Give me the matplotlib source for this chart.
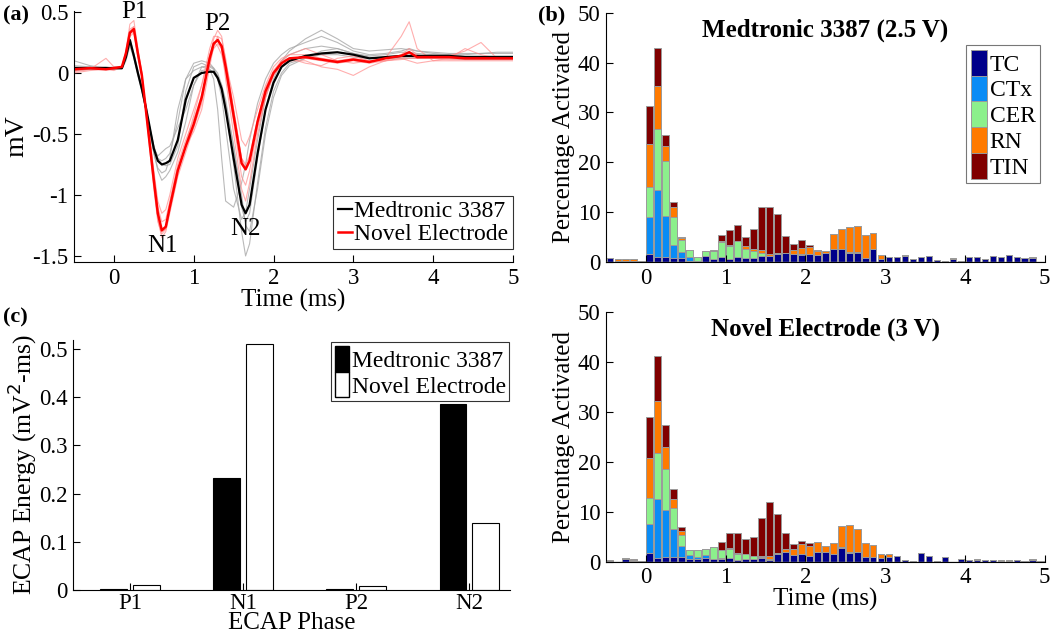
import numpy as np
import matplotlib
matplotlib.use("Agg")
import matplotlib.pyplot as plt
from matplotlib.patches import Patch

plt.rcParams['font.family'] = ['Liberation Serif', 'DejaVu Serif']
plt.rcParams['axes.unicode_minus'] = False
plt.rcParams['xtick.direction'] = 'in'
plt.rcParams['ytick.direction'] = 'in'

# ---- panel (a): ECAP waveforms ----
t_ms = [-0.5, -0.3, -0.1, 0.0, 0.1, 0.15, 0.2, 0.25, 0.3, 0.35, 0.4, 0.5, 0.55, 0.6, 0.65, 0.7,
        0.8, 0.9, 1.0, 1.1, 1.2, 1.25, 1.3, 1.35, 1.4, 1.5, 1.6, 1.65, 1.7, 1.8, 1.9, 2.0, 2.1,
        2.2, 2.4, 2.6, 2.8, 3.0, 3.2, 3.4, 3.6, 3.7, 3.8, 4.0, 4.2, 4.4, 4.6, 4.8, 5.0]

medtronic_mean = [0.04, 0.04, 0.04, 0.04, 0.04, 0.13, 0.27, 0.14, 0.0, -0.13, -0.28, -0.62, -0.72, -0.75,
                  -0.74, -0.72, -0.55, -0.22, -0.04, 0.0, 0.01, 0.01, -0.04, -0.13, -0.3, -0.7, -1.08,
                  -1.15, -1.08, -0.66, -0.3, -0.08, 0.05, 0.1, 0.14, 0.16, 0.17, 0.15, 0.12, 0.13, 0.14,
                  0.14, 0.14, 0.14, 0.14, 0.13, 0.13, 0.13, 0.13]
novel_mean = [0.03, 0.04, 0.03, 0.04, 0.05, 0.16, 0.33, 0.36, 0.16, -0.02, -0.3, -0.88, -1.15, -1.29,
              -1.26, -1.1, -0.8, -0.6, -0.42, -0.2, 0.12, 0.24, 0.27, 0.22, 0.05, -0.35, -0.74, -0.79,
              -0.72, -0.4, -0.15, 0.0, 0.08, 0.12, 0.13, 0.11, 0.09, 0.11, 0.09, 0.12, 0.14, 0.17, 0.13,
              0.13, 0.13, 0.12, 0.12, 0.12, 0.12]

medtronic_trials = [
    [0.1, 0.06, 0.04, 0.03, 0.03, 0.1, 0.22, 0.12, -0.02, -0.15, -0.3, -0.6, -0.7, -0.72, -0.7, -0.66,
     -0.4, -0.05, 0.08, 0.1, 0.08, 0.04, -0.05, -0.2, -0.45, -0.95, -1.2, -1.14, -0.95, -0.55, -0.2, 0.0,
     0.1, 0.15, 0.2, 0.22, 0.2, 0.16, 0.14, 0.15, 0.17, 0.17, 0.16, 0.15, 0.15, 0.15, 0.16, 0.17, 0.17],
    [0.05, 0.05, 0.04, 0.03, 0.04, 0.12, 0.25, 0.13, 0.0, -0.12, -0.3, -0.66, -0.78, -0.82, -0.8, -0.7,
     -0.3, -0.05, 0.02, 0.05, 0.03, -0.05, -0.3, -0.7, -1.05, -1.1, -0.9, -0.75, -0.55, -0.25, -0.05, 0.08,
     0.15, 0.2, 0.25, 0.3, 0.25, 0.18, 0.15, 0.16, 0.18, 0.2, 0.18, 0.16, 0.15, 0.14, 0.14, 0.14, 0.14],
    [0.03, 0.04, 0.04, 0.04, 0.05, 0.14, 0.28, 0.16, 0.02, -0.12, -0.28, -0.65, -0.8, -0.88, -0.85, -0.8,
     -0.65, -0.4, -0.1, 0.02, 0.03, 0.0, -0.05, -0.15, -0.3, -0.75, -1.3, -1.5, -1.4, -0.9, -0.45, -0.15,
     0.0, 0.08, 0.12, 0.15, 0.15, 0.13, 0.12, 0.12, 0.13, 0.13, 0.13, 0.13, 0.13, 0.12, 0.12, 0.12, 0.12],
    [0.02, 0.03, 0.04, 0.05, 0.05, 0.13, 0.26, 0.15, 0.01, -0.14, -0.29, -0.62, -0.68, -0.65, -0.62, -0.6,
     -0.45, -0.3, -0.1, 0.05, 0.06, 0.04, 0.0, -0.1, -0.25, -0.6, -1.0, -1.25, -1.3, -0.95, -0.5, -0.2,
     -0.02, 0.06, 0.12, 0.18, 0.2, 0.16, 0.13, 0.12, 0.12, 0.12, 0.12, 0.12, 0.12, 0.11, 0.11, 0.11, 0.11],
    [0.06, 0.05, 0.05, 0.04, 0.04, 0.12, 0.26, 0.14, 0.0, -0.13, -0.3, -0.6, -0.7, -0.75, -0.76, -0.75,
     -0.6, -0.15, 0.05, 0.08, 0.05, 0.03, -0.02, -0.1, -0.22, -0.6, -1.1, -1.22, -1.15, -0.7, -0.3, -0.05,
     0.1, 0.18, 0.28, 0.35, 0.28, 0.2, 0.18, 0.19, 0.2, 0.19, 0.18, 0.17, 0.16, 0.16, 0.16, 0.16, 0.16],
]
novel_trials = [
    [0.0, 0.02, 0.03, 0.03, 0.05, 0.18, 0.4, 0.43, 0.2, 0.0, -0.3, -0.9, -1.2, -1.35, -1.3, -1.15, -0.85,
     -0.65, -0.45, -0.25, 0.1, 0.28, 0.35, 0.3, 0.1, -0.3, -0.7, -0.78, -0.7, -0.4, -0.15, 0.0, 0.1, 0.15,
     0.2, 0.15, 0.1, 0.08, 0.1, 0.12, 0.3, 0.42, 0.2, 0.1, 0.1, 0.1, 0.1, 0.1, 0.1],
    [0.01, 0.03, 0.12, 0.05, 0.04, 0.14, 0.32, 0.34, 0.15, -0.02, -0.28, -0.8, -1.05, -1.15, -1.12, -1.0,
     -0.7, -0.5, -0.3, -0.1, 0.15, 0.25, 0.22, 0.15, 0.0, -0.4, -0.85, -0.92, -0.8, -0.45, -0.2, -0.02,
     0.06, 0.1, 0.1, 0.05, 0.03, -0.02, 0.05, 0.1, 0.12, 0.1, 0.08, 0.1, 0.12, 0.2, 0.15, 0.12, 0.12],
    [0.02, 0.03, 0.03, 0.02, 0.05, 0.16, 0.34, 0.38, 0.18, 0.0, -0.32, -0.95, -1.22, -1.32, -1.28, -1.12,
     -0.82, -0.58, -0.35, -0.1, 0.2, 0.3, 0.3, 0.2, -0.05, -0.5, -0.95, -1.05, -0.9, -0.5, -0.2, 0.0, 0.08,
     0.12, 0.12, 0.1, 0.08, 0.1, 0.08, 0.1, 0.12, 0.14, 0.12, 0.12, 0.12, 0.12, 0.12, 0.12, 0.12],
    [0.03, 0.03, 0.04, 0.04, 0.05, 0.15, 0.3, 0.33, 0.14, -0.03, -0.3, -0.82, -1.1, -1.22, -1.2, -1.05,
     -0.75, -0.55, -0.38, -0.18, 0.1, 0.2, 0.24, 0.2, 0.08, -0.2, -0.55, -0.6, -0.52, -0.3, -0.1, 0.05,
     0.12, 0.15, 0.15, 0.12, 0.1, 0.12, 0.1, 0.1, 0.11, 0.12, 0.12, 0.13, 0.14, 0.18, 0.25, 0.12, 0.12],
    [0.03, 0.04, 0.03, 0.04, 0.05, 0.17, 0.36, 0.38, 0.16, -0.02, -0.3, -0.9, -1.18, -1.3, -1.28, -1.1,
     -0.78, -0.6, -0.48, -0.3, 0.05, 0.22, 0.3, 0.28, 0.12, -0.3, -0.7, -0.75, -0.68, -0.38, -0.12, 0.02,
     0.1, 0.12, 0.08, 0.06, 0.12, 0.14, 0.1, 0.1, 0.15, 0.2, 0.15, 0.12, 0.11, 0.11, 0.11, 0.11, 0.11],
]

peak_labels = ['P1', 'N1', 'P2', 'N2']
peak_pos = [(0.26, 0.50), (0.61, -1.42), (1.3, 0.40), (1.65, -1.28)]

# ---- panel (b): activation histograms (percent per 0.1 ms bin) ----
populations = ['TC', 'CTx', 'CER', 'RN', 'TIN']
pop_colors = ['#00008a', '#0a8cf5', '#8cf08c', '#ff7a00', '#800000']

med_hist = {
    'TC': [.8, .3, .3, .2, .1, 1.6, 1.0, 1.0, .8, .8, .3, .2, 1.2, .6, 1.1, .6, 1.0, .8, .9, 1.3,
           1.3, 1.7, 1.9, 1.6, 1.5, 1.7, 1.4, 1.8, 2.7, 2.7, 1.8, 1.8, .8, 2.6, .7, 1.1, 1.1, 1.3, .7, 1.1,
           1.2, .4, .2, .6, .2, 1.0, 1.0, .6, 1.3, 1.0, 1.4, 1.1, .9, .8, 0],
    'CTx': [0, 0, 0, 0, 0, 7.4, 13.4, 8.2, 2.6, 1.2, .7, 0, 0, 0, 0, 0, 0, 0, 0, 0,
            0, 0, 0, 0, 0, 0, 0, 0, 0, 0, 0, 0, 0, 0, 0, 0, 0, 0, 0, 0,
            0, 0, 0, 0, 0, 0, 0, 0, 0, 0, 0, 0, 0, 0, 0],
    'CER': [0, 0, 0, 0, 0, 6.0, 12.3, 11.1, 5.7, 2.5, 1.5, .9, 1.1, 1.6, 2.9, 2.7, 3.2, 1.9, 1.4, .5,
            0, 0, 0, 0, .2, 0, 0, 0, 0, 0, .2, .2, 0, 0, 0, 0, 0, 0, 0, 0,
            0, 0, 0, 0, 0, 0, 0, 0, 0, 0, 0, 0, 0, 0, 0],
    'RN': [.1, .3, .4, .5, .2, 8.7, 8.6, 2.9, 1.9, .3, 0, 0, 0, .1, .2, .1, 0, .6, .4, .6,
           .4, .2, 0, .8, 1.2, 1.4, .8, .4, 2.9, 3.9, 5.0, 5.3, 4.6, 3.3, .8, 0, 0, .1, 0, 0,
           0, 0, 0, .3, 0, 0, .1, 0, 0, 0, 0, 0, 0, .3, 0],
    'TIN': [0, 0, 0, 0, 0, 7.5, 7.7, 2.2, 1.0, .2, 0, 0, 0, .1, 1.2, 3.0, 3.2, 1.7, 3.9, 8.6,
            9.3, 7.7, 3.3, 1.2, 1.5, .3, .3, 0, 0, 0, 0, 0, 0, 0, 0, 0, 0, 0, 0, 0,
            0, 0, 0, 0, 0, 0, 0, 0, 0, 0, 0, 0, 0, 0, 0],
}
novel_hist = {
    'TC': [.1, 0, .5, .2, .2, 1.8, .8, 1.0, 1.0, 1.0, .6, .5, .7, .5, .5, .7, .4, .6, .5, .8,
           .4, 1.6, 1.9, 1.3, 1.5, 1.1, 1.9, 1.9, 1.6, 2.8, 1.7, 1.9, .9, .9, .7, .9, 1.1, .4, .2, 1.7,
           1.1, .2, .9, 0, .5, .4, .4, .3, .4, .2, .2, .4, .1, .3, 0],
    'CTx': [0, 0, 0, 0, 0, 5.8, 11.8, 9.4, 5.6, 2.2, .7, .4, .6, 0, .2, 0, 0, 0, 0, 0,
            0, 0, 0, 0, 0, 0, 0, 0, 0, 0, 0, 0, 0, 0, 0, 0, 0, 0, 0, 0,
            0, 0, 0, 0, 0, 0, 0, 0, 0, 0, 0, 0, 0, 0, 0],
    'CER': [0, 0, 0, 0, 0, 5.2, 9.2, 8.2, 4.2, 2.2, 1.1, 1.5, 1.3, 2.5, 1.6, 1.9, 1.2, 1.0, .6, .2,
            .2, 0, 0, 0, 0, 0, 0, 0, 0, .2, .3, .1, 0, 0, 0, 0, 0, 0, 0, 0,
            0, 0, 0, 0, 0, 0, 0, 0, 0, 0, 0, 0, 0, 0, 0],
    'RN': [.1, 0, .2, .2, 0, 8.0, 10.4, 4.4, 1.8, .8, 0, 0, 0, 0, .1, .2, .1, 0, 0, .1,
           .5, .2, .6, 1.2, 2.1, 2.1, 2.0, 1.2, 2.2, 4.2, 5.4, 4.6, 2.9, 2.5, .8, .6, 0, 0, 0, 0,
           0, 0, 0, 0, 0, 0, .2, 0, 0, .2, .2, 0, 0, .2, .1],
    'TIN': [.1, 0, 0, .1, 0, 8.2, 9.0, 4.4, 2.0, .8, 0, 0, 0, 0, 1.6, 3.0, 4.1, 3.0, 3.9, 7.7,
            10.9, 7.8, 3.3, 1.1, .6, .5, 0, 0, 0, 0, 0, 0, 0, 0, 0, 0, 0, 0, 0, 0,
            0, 0, 0, 0, 0, 0, 0, 0, 0, 0, 0, 0, 0, 0, 0],
}
bin_centers = np.round(np.arange(-0.45, 5.0, 0.1), 2)

# ---- panel (c): ECAP energy per phase ----
phases = ['P1', 'N1', 'P2', 'N2']
energy_medtronic = [0.003, 0.232, 0.001, 0.387]
energy_novel = [0.010, 0.511, 0.008, 0.140]


def style_axes(ax):
    for s in ['top', 'right']:
        ax.spines[s].set_visible(False)
    ax.tick_params(labelsize=16.5, length=5, width=0.8, pad=4)


fig = plt.figure(figsize=(10.5, 6.33), dpi=100)

# (a)
axA = fig.add_axes([0.0705, 0.586, 0.418, 0.397])
for tr in medtronic_trials:
    axA.plot(t_ms, tr, color='#a8a8a8', lw=0.8, alpha=0.8)
for tr in novel_trials:
    axA.plot(t_ms, tr, color='#ff8c8c', lw=0.8, alpha=0.7)
axA.plot(t_ms, medtronic_mean, color='black', lw=1.6, label='Medtronic 3387')
axA.plot(t_ms, novel_mean, color='#ff0000', lw=1.8, label='Novel Electrode')
for lab, (px, py) in zip(peak_labels, peak_pos):
    axA.text(px, py, lab, fontsize=18, ha='center', va='center')
axA.set_xlim(-0.5, 5)
axA.set_ylim(-1.55, 0.51)
axA.set_xticks([0, 1, 2, 3, 4, 5])
axA.set_yticks([-1.5, -1, -0.5, 0, 0.5])
axA.set_yticklabels(['-1.5', '-1', '-0.5', '0', '0.5'])
style_axes(axA)
axA.set_xlabel('Time (ms)', fontsize=18, labelpad=0)
axA.set_ylabel('mV', fontsize=20, labelpad=2)
legA = axA.legend(loc='lower right', bbox_to_anchor=(1.0, 0.05), fontsize=17, frameon=True,
                  fancybox=False, edgecolor='black', handlelength=0.6, handletextpad=0.1,
                  borderpad=0.2, labelspacing=0.05, borderaxespad=0)
legA.get_frame().set_linewidth(0.8)


# (b)
def draw_hist(ax, hist, title):
    bottom = np.zeros(len(bin_centers))
    for pop, col in zip(populations, pop_colors):
        vals = np.array(hist[pop])
        ax.bar(bin_centers, vals, bottom=bottom, width=0.083, color=col,
               edgecolor='#9a9a9a', linewidth=0.7, label=pop)
        bottom = bottom + vals
    ax.axhline(0, color='#9a9a9a', lw=1.0, zorder=3)
    ax.set_xlim(-0.5, 5)
    ax.set_ylim(0, 50)
    ax.set_xticks([0, 1, 2, 3, 4, 5])
    ax.set_yticks([0, 10, 20, 30, 40, 50])
    style_axes(ax)
    ax.set_ylabel('Percentage Activated', fontsize=18, labelpad=2)
    ax.set_title(title, fontsize=18, fontweight='bold', y=0.87)


axB1 = fig.add_axes([0.577, 0.586, 0.418, 0.394])
draw_hist(axB1, med_hist, 'Medtronic 3387 (2.5 V)')
legB = axB1.legend(loc='upper right', bbox_to_anchor=(0.99, 0.87), fontsize=17, frameon=True,
                   fancybox=False, edgecolor='#555555', handlelength=0.7, handleheight=1.3,
                   handletextpad=0.1, borderpad=0.2, labelspacing=0.0, borderaxespad=0)
legB.get_frame().set_linewidth(0.8)

axB2 = fig.add_axes([0.577, 0.1126, 0.418, 0.395])
draw_hist(axB2, novel_hist, 'Novel Electrode (3 V)')
axB2.set_xlabel('Time (ms)', fontsize=18, labelpad=0)

# (c)
axC = fig.add_axes([0.0698, 0.068, 0.416, 0.395])
xpos = np.arange(1, len(phases) + 1)
axC.bar(xpos - 0.145, energy_medtronic, width=0.235, color='black', edgecolor='black', linewidth=0.8)
axC.bar(xpos + 0.145, energy_novel, width=0.235, color='white', edgecolor='black', linewidth=0.8)
axC.set_xlim(0.5, 4.36)
axC.set_ylim(0, 0.519)
axC.set_xticks(xpos)
axC.set_xticklabels(phases)
axC.set_yticks([0, 0.1, 0.2, 0.3, 0.4, 0.5])
axC.set_yticklabels(['0', '0.1', '0.2', '0.3', '0.4', '0.5'])
style_axes(axC)
axC.tick_params(axis='x', pad=2)
axC.set_xlabel('ECAP Phase', fontsize=18, labelpad=-1)
axC.set_ylabel('ECAP Energy (mV$^2$-ms)', fontsize=18.5, labelpad=0)
handlesC = [Patch(facecolor='black', edgecolor='black'), Patch(facecolor='white', edgecolor='black')]
legC = axC.legend(handlesC, ['Medtronic 3387', 'Novel Electrode'], loc='upper right',
                  bbox_to_anchor=(0.998, 0.99), fontsize=17, frameon=True, fancybox=False,
                  edgecolor='black', handlelength=0.6, handleheight=1.3, handletextpad=0.1,
                  borderpad=0.15, labelspacing=0.0, borderaxespad=0)
legC.get_frame().set_linewidth(0.8)

fig.text(0.003, 0.975, '(a)', fontsize=16, fontweight='bold', va='center')
fig.text(0.512, 0.975, '(b)', fontsize=16, fontweight='bold', va='center')
fig.text(0.003, 0.499, '(c)', fontsize=16, fontweight='bold', va='center')

fig.savefig('out.png', dpi=100)
